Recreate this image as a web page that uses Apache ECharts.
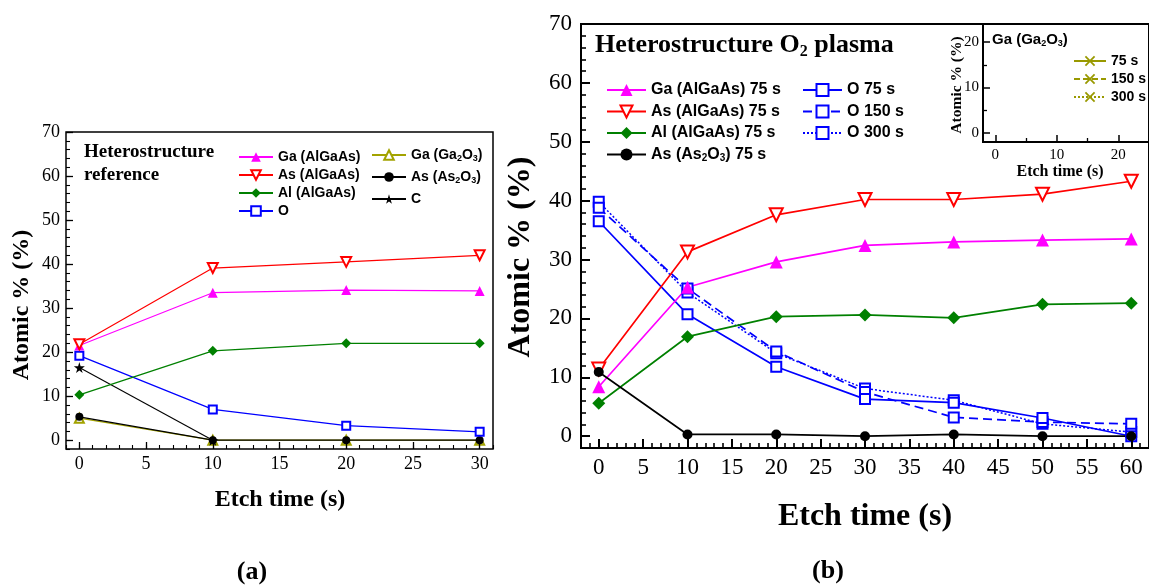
<!DOCTYPE html>
<html>
<head>
<meta charset="utf-8">
<script src="https://cdn.jsdelivr.net/npm/echarts@6/dist/echarts.min.js"></script>
<style>
  html, body { margin: 0; padding: 0; background: #fff; }
  #chart { width: 1149px; height: 585px; }
</style>
</head>
<body>
<div id="chart"></div>
<script>
// ---- Panel (a): heterostructure reference ----
const timesA = [0, 10, 20, 30];
const gaAlGaAsA = [21.5, 33.5, 34.1, 33.9];
const asAlGaAsA = [21.8, 39.1, 40.5, 42.0];
const alAlGaAsA = [10.3, 20.3, 22.0, 22.0];
const oxygenA = [19.2, 7.0, 3.3, 1.9];
const gaGa2O3A = [5.0, 0, 0, 0];
const asAs2O3A = [5.3, 0, 0, 0];
const carbonA = [16.5, 0, null, null];

// ---- Panel (b): heterostructure after O2 plasma ----
const timesB = [0, 10, 20, 30, 40, 50, 60];
const gaAlGaAsB = [8.4, 25.3, 29.6, 32.4, 33.0, 33.3, 33.5];
const asAlGaAsB = [11.4, 31.3, 37.6, 40.2, 40.2, 41.1, 43.3];
const alAlGaAsB = [5.6, 16.9, 20.3, 20.6, 20.1, 22.4, 22.6];
const asAs2O3B = [10.9, 0.3, 0.3, 0.0, 0.3, 0.0, 0.0];
const oxygen75B = [36.5, 20.7, 11.8, 6.3, 5.7, 3.1, 0.0];
const oxygen150B = [38.8, 25.1, 14.4, 7.5, 3.2, 2.4, 2.1];
const oxygen300B = [39.8, 24.4, 14.1, 8.1, 6.1, 2.1, 0.7];

// ---- Inset: Ga (Ga2O3) ----
const timesInset = [0, 10, 20, 30];
const gaOxide75 = [12.5, 5.4, 0.5, 0.3];
const gaOxide150 = [12.3, 8.3, 1.0, 0.4];
const gaOxide300 = [12.8, 8.0, 0.2, 0.3];

// ---- Tick labels ----
const ticksXA = [0, 5, 10, 15, 20, 25, 30];
const ticksY = [0, 10, 20, 30, 40, 50, 60, 70];
const ticksXB = [0, 5, 10, 15, 20, 25, 30, 35, 40, 45, 50, 55, 60];
const ticksInsetX = [0, 10, 20];
const ticksInsetY = [0, 10, 20];

const SERIF = '"Liberation Serif", "Times New Roman", serif';
const SANS = '"Liberation Sans", Arial, sans-serif';

const CROSS = 'path://M0,1.2L1.2,0L5,3.8L8.8,0L10,1.2L6.2,5L10,8.8L8.8,10L5,6.2L1.2,10L0,8.8L3.8,5Z';
const STAR = 'path://M50,0L61,35L98,35L68,57L79,91L50,70L21,91L32,57L2,35L39,35Z';

function range(a, b, step) {
  const out = [];
  for (let v = a; v <= b + 1e-9; v += step) out.push(Math.round(v * 100) / 100);
  return out;
}
function pts(xs, ys) { return xs.map((x, i) => [x, ys[i]]); }

// chemical formulas: digits that follow a letter become subscripts
function richName(name) {
  return '{n|' + name.replace(/([A-Za-z])(\d)/g, '$1}{s|$2}{n|') + '}';
}
function richStyles(size, family, weight) {
  return {
    n: { fontFamily: family, fontWeight: weight, fontSize: size, color: '#000' },
    s: { fontFamily: family, fontWeight: weight, fontSize: Math.round(size * 0.62), color: '#000',
         padding: [Math.round(size * 0.5), 0, 0, 0] }
  };
}

function mainAxis(dim, grid, min, max, ticks, fontSize, margin, tickLen, tickWidth) {
  return {
    type: 'value', gridIndex: grid, min: min, max: max,
    position: dim === 'x' ? 'bottom' : 'left',
    axisLine: { show: false, onZero: false },
    splitLine: { show: false },
    axisTick: { show: true, inside: true, length: tickLen, customValues: ticks,
                lineStyle: { color: '#000', width: tickWidth } },
    axisLabel: { show: true, customValues: ticks, margin: margin, color: '#000',
                 fontFamily: SERIF, fontSize: fontSize },
    z: 5
  };
}
function minorAxis(dim, grid, min, max, ticks, tickLen, tickWidth) {
  return {
    type: 'value', gridIndex: grid, min: min, max: max,
    position: dim === 'x' ? 'bottom' : 'left',
    axisLine: { show: false, onZero: false },
    splitLine: { show: false },
    axisLabel: { show: false },
    axisTick: { show: true, inside: true, length: tickLen, customValues: ticks,
                lineStyle: { color: '#000', width: tickWidth } },
    z: 5
  };
}

function lineSeries(name, axis, xs, ys, color, o) {
  return {
    type: 'line', name: name,
    xAxisIndex: axis, yAxisIndex: axis,
    data: pts(xs, ys),
    symbol: o.symbol, symbolSize: o.size, symbolRotate: o.rotate || 0,
    showSymbol: true,
    lineStyle: { color: color, width: o.width, type: o.dash || 'solid' },
    itemStyle: Object.assign({ color: color }, o.empty ? { borderWidth: o.border || 1.3, borderColor: color } : {}),
    clip: true,
    emphasis: { disabled: true },
    z: o.z || 2
  };
}

const series = [
  // panel (a)
  lineSeries('Ga (Ga2O3)', 0, timesA, gaGa2O3A, '#a3a300', { symbol: 'emptyTriangle', size: 9, width: 1.3, empty: true }),
  lineSeries('C', 0, timesA, carbonA, '#000', { symbol: STAR, size: 11, width: 1.1 }),
  lineSeries('As (As2O3)', 0, timesA, asAs2O3A, '#000', { symbol: 'circle', size: 8, width: 1.3 }),
  lineSeries('O', 0, timesA, oxygenA, '#0000ff', { symbol: 'emptyRect', size: 8, width: 1.2, empty: true }),
  lineSeries('Al (AlGaAs)', 0, timesA, alAlGaAsA, '#008000', { symbol: 'diamond', size: 10, width: 1.2 }),
  lineSeries('Ga (AlGaAs)', 0, timesA, gaAlGaAsA, '#ff00ff', { symbol: 'triangle', size: 10, width: 1.2 }),
  lineSeries('As (AlGaAs)', 0, timesA, asAlGaAsA, '#ff0000', { symbol: 'emptyTriangle', size: 10, width: 1.2, rotate: 180, empty: true }),

  // panel (b)
  lineSeries('O 300 s', 2, timesB, oxygen300B, '#0000ff', { symbol: 'emptyRect', size: 10, width: 1.5, dash: [2, 2], empty: true }),
  lineSeries('O 150 s', 2, timesB, oxygen150B, '#0000ff', { symbol: 'emptyRect', size: 10, width: 1.7, dash: [9, 5], empty: true }),
  lineSeries('O 75 s', 2, timesB, oxygen75B, '#0000ff', { symbol: 'emptyRect', size: 10, width: 1.7, empty: true }),
  lineSeries('Al (AlGaAs) 75 s', 2, timesB, alAlGaAsB, '#008000', { symbol: 'diamond', size: 13, width: 1.7 }),
  lineSeries('Ga (AlGaAs) 75 s', 2, timesB, gaAlGaAsB, '#ff00ff', { symbol: 'triangle', size: 13, width: 1.7 }),
  lineSeries('As (AlGaAs) 75 s', 2, timesB, asAlGaAsB, '#ff0000', { symbol: 'emptyTriangle', size: 13, width: 1.7, rotate: 180, empty: true }),
  lineSeries('As (As2O3) 75 s', 2, timesB, asAs2O3B, '#000', { symbol: 'circle', size: 10, width: 1.7 }),

  // inset
  lineSeries('300 s', 4, timesInset, gaOxide300, '#999900', { symbol: CROSS, size: 11, width: 1.4, dash: [2, 2] }),
  lineSeries('150 s', 4, timesInset, gaOxide150, '#999900', { symbol: CROSS, size: 11, width: 1.4, dash: [6, 3] }),
  lineSeries('75 s', 4, timesInset, gaOxide75, '#999900', { symbol: CROSS, size: 11, width: 1.6 })
];

function legend(names, left, top, size, itemW, itemH, gap) {
  return {
    data: names, left: left, top: top, orient: 'vertical',
    itemWidth: itemW, itemHeight: itemH, itemGap: gap,
    selectedMode: false, padding: 0,
    formatter: richName,
    textStyle: { color: '#000', fontFamily: SANS, fontWeight: 'bold', fontSize: size,
                 rich: richStyles(size, SANS, 'bold') }
  };
}

function label(text, x, y, size, family, weight, rotate) {
  return {
    type: 'text', x: x, y: y, rotation: rotate ? Math.PI / 2 : 0, z: 100,
    style: { text: richName(text), align: 'center', verticalAlign: 'middle',
             rich: richStyles(size, family, weight) }
  };
}
function leftLabel(text, x, y, size, family, weight) {
  return {
    type: 'text', x: x, y: y, z: 100,
    style: { text: richName(text), align: 'left', verticalAlign: 'middle',
             rich: richStyles(size, family, weight) }
  };
}

const option = {
  animation: false,
  backgroundColor: '#fff',
  grid: [
    { left: 66, top: 132, width: 427, height: 317, show: true, borderColor: '#000', borderWidth: 1.5, backgroundColor: 'transparent' },
    { left: 581, top: 24, width: 570, height: 424, show: true, borderColor: '#000', borderWidth: 2, backgroundColor: 'transparent' },
    { left: 983, top: 24, width: 168, height: 118, show: true, borderColor: '#000', borderWidth: 2, backgroundColor: '#fff', z: 3 }
  ],
  xAxis: [
    mainAxis('x', 0, -1, 31, ticksXA, 18, 6, 7, 1.3),
    minorAxis('x', 0, -1, 31, range(-1, 31, 1), 4, 1.1),
    mainAxis('x', 1, -2, 62, ticksXB, 23, 8, 9, 2),
    minorAxis('x', 1, -2, 62, range(-2, 62, 1), 5, 1.6),
    mainAxis('x', 2, -2, 25, ticksInsetX, 15, 6, 7, 1.5),
    minorAxis('x', 2, -2, 25, [5, 15, 25], 4, 1.3)
  ],
  yAxis: [
    mainAxis('y', 0, -2, 70, ticksY, 18, 6, 7, 1.3),
    minorAxis('y', 0, -2, 70, range(-2, 70, 2), 4, 1.1),
    mainAxis('y', 1, -2, 70, ticksY, 23, 9, 9, 2),
    minorAxis('y', 1, -2, 70, range(-2, 70, 2), 5, 1.6),
    mainAxis('y', 2, -2, 24, ticksInsetY, 15, 4, 7, 1.5),
    minorAxis('y', 2, -2, 24, [5, 15], 4, 1.3)
  ],
  legend: [
    legend(['Ga (AlGaAs)', 'As (AlGaAs)', 'Al (AlGaAs)', 'O'], 238, 150, 14, 34, 12, 4),
    legend(['Ga (Ga2O3)', 'As (As2O3)', 'C'], 371, 148, 14, 34, 12, 7),
    legend(['Ga (AlGaAs) 75 s', 'As (AlGaAs) 75 s', 'Al (AlGaAs) 75 s', 'As (As2O3) 75 s'], 606, 82, 16, 39, 15, 5.5),
    legend(['O 75 s', 'O 150 s', 'O 300 s'], 802, 82, 16, 39, 15, 5.5),
    legend(['75 s', '150 s', '300 s'], 1073, 54, 14, 32, 13, 4)
  ],
  graphic: [
    leftLabel('Heterostructure', 84, 152, 19, SERIF, 'bold'),
    leftLabel('reference', 84, 175, 19, SERIF, 'bold'),
    leftLabel('Heterostructure O2 plasma', 595, 45, 26, SERIF, 'bold'),
    leftLabel('Ga (Ga2O3)', 992, 40, 15, SANS, 'bold'),
    label('Atomic % (%)', 22, 305, 24, SERIF, 'bold', true),
    label('Etch time (s)', 280, 500, 24, SERIF, 'bold'),
    label('Atomic % (%)', 521, 257, 32, SERIF, 'bold', true),
    label('Etch time (s)', 865, 517, 32, SERIF, 'bold'),
    label('Atomic % (%)', 957, 85, 15.5, SERIF, 'bold', true),
    label('Etch time (s)', 1060, 172, 16, SERIF, 'bold'),
    label('(a)', 252, 572, 26, SERIF, 'bold'),
    label('(b)', 828, 571, 26, SERIF, 'bold')
  ],
  series: series
};

const chart = echarts.init(document.getElementById('chart'), null, { renderer: 'canvas' });
chart.setOption(option);
</script>
</body>
</html>
